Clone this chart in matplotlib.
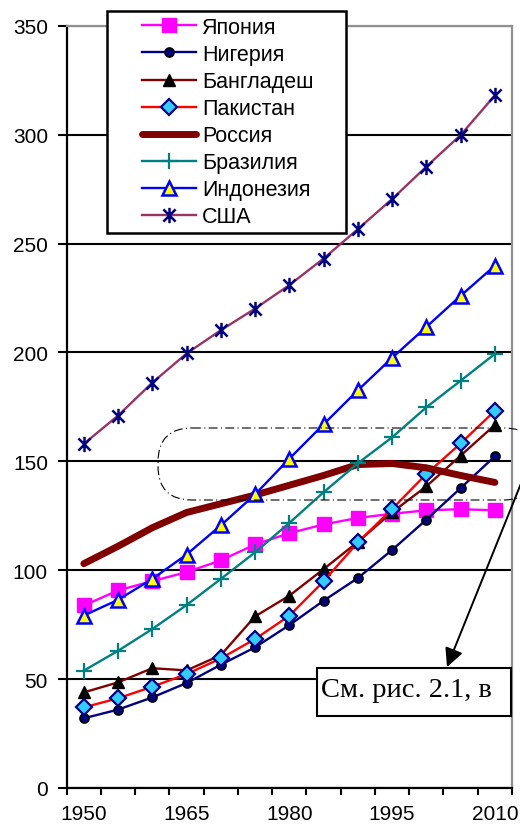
import matplotlib
matplotlib.use("Agg")
import matplotlib.pyplot as plt
import matplotlib.transforms as mtransforms
from matplotlib.patches import Rectangle, FancyBboxPatch, FancyArrowPatch
from matplotlib.path import Path
import numpy as np

plt.rcParams['font.family'] = ['Liberation Sans', 'DejaVu Sans']

years = [1950, 1955, 1960, 1965, 1970, 1975, 1980, 1985, 1990, 1995, 2000, 2005, 2010]
japan = [83.8, 90.7, 95.0, 99.1, 104.5, 111.8, 117.0, 121.0, 124.0, 125.9, 127.5, 128.0, 127.5]
nigeria = [32.0, 36.0, 41.6, 48.2, 56.6, 64.6, 74.8, 86.0, 96.4, 109.3, 123.2, 137.7, 152.3]
bangladesh = [43.9, 48.5, 55.0, 54.0, 61.0, 78.8, 88.3, 100.5, 113.0, 126.6, 138.5, 152.6, 166.7]
pakistan = [37.0, 41.2, 46.5, 52.3, 59.5, 68.4, 79.1, 94.9, 112.8, 128.1, 144.2, 158.2, 173.2]
russia = [103.0, 111.0, 119.5, 126.5, 130.5, 134.5, 139.0, 143.5, 148.5, 149.0, 147.0, 143.5, 140.3]
brazil = [53.9, 63.0, 73.0, 84.0, 96.0, 108.2, 121.7, 135.8, 149.1, 161.0, 174.8, 187.0, 199.3]
indonesia = [79.2, 86.4, 96.0, 107.2, 120.6, 134.8, 151.2, 167.0, 182.6, 197.5, 211.7, 226.0, 239.8]
usa = [158.0, 171.0, 186.1, 199.5, 210.2, 220.1, 230.9, 243.1, 256.6, 270.4, 285.3, 299.8, 318.0]

labels = ['Япония', 'Нигерия', 'Бангладеш', 'Пакистан', 'Россия', 'Бразилия', 'Индонезия', 'США']
xtick_labels = [1950, 1965, 1980, 1995, 2010]
yticks = [0, 50, 100, 150, 200, 250, 300, 350]
note_text = 'См. рис. 2.1, в'

W, H = 520, 829
fig = plt.figure(figsize=(W / 100, H / 100), dpi=100)
ax = fig.add_axes([66.7 / W, 1 - 789 / H, (512 - 66.7) / W, (789 - 26.7) / H])

star = Path([(-1, -1), (1, 1), (-1, 1), (1, -1), (0, -1.25), (0, 1.25)],
            [Path.MOVETO, Path.LINETO, Path.MOVETO, Path.LINETO, Path.MOVETO, Path.LINETO])

lines = []
lines += ax.plot(years, japan, color='#FF00FF', lw=1.7, marker='s', ms=10.5,
                 mfc='#FF00FF', mec='#FF00FF')
lines += ax.plot(years, nigeria, color='#000080', lw=1.7, marker='o', ms=6.5,
                 mfc='#000080', mec='black', mew=1.2)
lines += ax.plot(years, bangladesh, color='#800000', lw=1.7, marker='^', ms=9,
                 mfc='black', mec='black')
lines += ax.plot(years, pakistan, color='#FF0000', lw=1.7, marker='D', ms=8,
                 mfc='#33CCFF', mec='#000080', mew=1.6)
lines += ax.plot(years, russia, color='#800000', lw=5, solid_capstyle='round',
                 solid_joinstyle='round')
lines += ax.plot(years, brazil, color='#008080', lw=1.7, marker='+', ms=12,
                 mec='#008080', mew=1.6)
lines += ax.plot(years, indonesia, color='#0000FF', lw=1.7, marker='^', ms=10.5,
                 mfc='#FFFF00', mec='#0000FF', mew=1.8)
lines += ax.plot(years, usa, color='#993366', lw=1.7, marker=star, ms=11,
                 mec='#000080', mew=1.8)

ax.set_xlim(1947.5, 2012.5)
ax.set_ylim(0, 350)
ax.set_xticks(xtick_labels)
ax.set_xticklabels([str(v) for v in xtick_labels])
ax.set_xticks(np.arange(1947.5, 2013, 5), minor=True)
ax.tick_params(axis='x', which='major', length=0, pad=11.5, labelsize=15)
ax.tick_params(axis='x', which='minor', length=5, width=1.5, direction='out', color='black')
ax.set_yticks(yticks)
ax.tick_params(axis='y', which='major', length=6.5, width=1.5, direction='out',
               pad=7, labelsize=15, color='black')

ax.set_axisbelow(True)
ax.grid(axis='y', color='black', lw=1.5)
for s in ['left', 'bottom']:
    ax.spines[s].set_color('black')
    ax.spines[s].set_linewidth(1.6)
for s in ['top', 'right']:
    ax.spines[s].set_color('#909090')
    ax.spines[s].set_linewidth(1.6)

# pixel transform (x from left, y from top)
T = mtransforms.Affine2D().scale(1 / W, -1 / H).translate(0, 1) + fig.transFigure

# legend frame + legend
frame = Rectangle((107, 12), 239, 222, transform=T, facecolor='white',
                  edgecolor='black', lw=1.8, zorder=4)
fig.add_artist(frame)
leg = fig.legend(lines, labels, loc='upper left',
                 bbox_to_anchor=(142 / W, 1 - 18 / H), frameon=False,
                 fontsize=15.5, handlelength=2.5, handletextpad=0.3,
                 labelspacing=0.28, borderpad=0, borderaxespad=0, numpoints=1)
leg.set_zorder(6)

# dash-dot rounded box
rbox = FancyBboxPatch((158, 429), 380, 72, boxstyle='round,pad=0,rounding_size=34',
                      transform=T, facecolor='none', edgecolor='black', lw=0.8,
                      linestyle=(0, (8, 3, 1, 3)), zorder=7)
fig.add_artist(rbox)

# note box
nbox = Rectangle((317, 669), 194, 48, transform=T, facecolor='white',
                 edgecolor='black', lw=1.5, zorder=7)
fig.add_artist(nbox)
fig.text(321 / W, 1 - 697 / H, note_text, family=['Liberation Serif', 'DejaVu Serif'],
         fontsize=20.5, ha='left', va='baseline', zorder=8)

arrow = FancyArrowPatch((522, 482), (447, 668), transform=T,
                        arrowstyle='-|>,head_length=0.8,head_width=0.4',
                        mutation_scale=14, color='black', lw=1.4,
                        shrinkA=0, shrinkB=0, zorder=8)
fig.add_artist(arrow)

fig.savefig('out.png', dpi=100)
